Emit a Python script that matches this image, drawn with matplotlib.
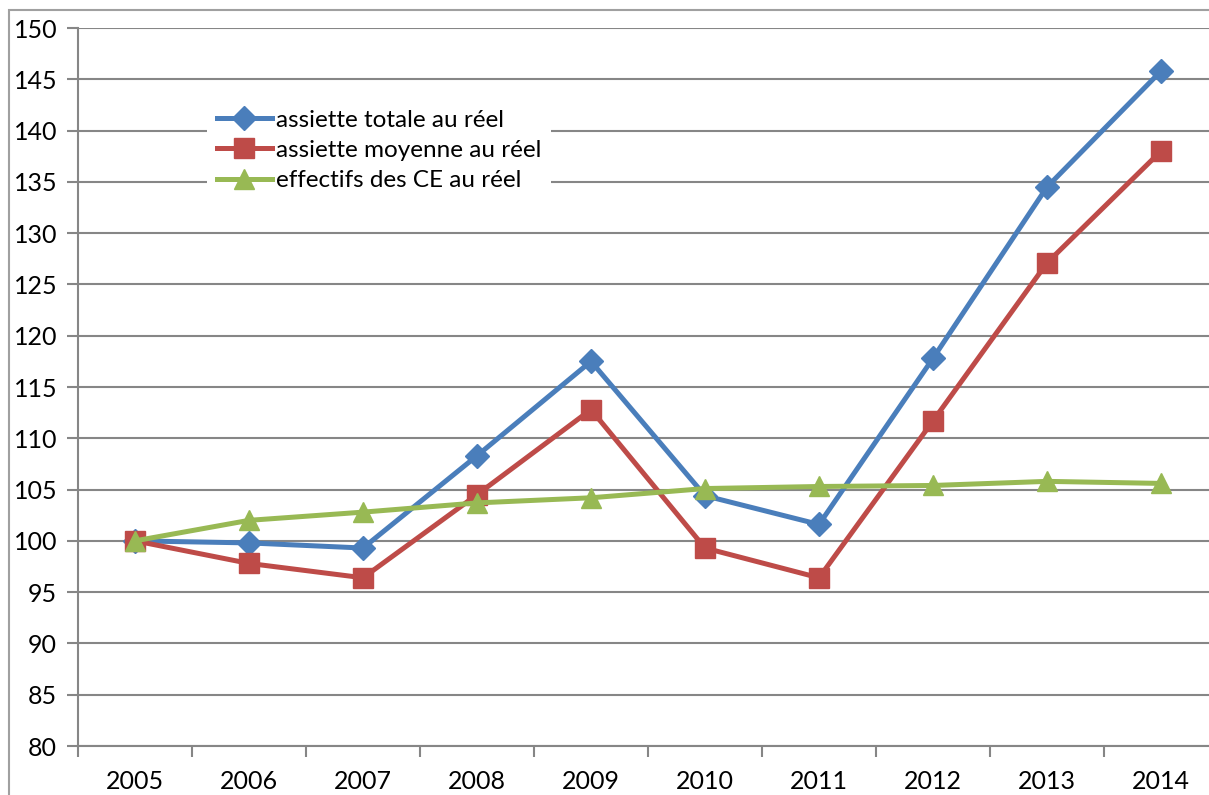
import matplotlib.pyplot as plt
from matplotlib.patches import Rectangle

years = ['2005', '2006', '2007', '2008', '2009', '2010', '2011', '2012', '2013', '2014']
assiette_totale = [100, 99.8, 99.3, 108.3, 117.5, 104.4, 101.6, 117.8, 134.5, 145.8]
assiette_moyenne = [100, 97.8, 96.4, 104.5, 112.8, 99.3, 96.4, 111.7, 127.1, 138.0]
effectifs_ce = [100, 102.0, 102.8, 103.7, 104.2, 105.1, 105.3, 105.4, 105.8, 105.6]
labels = ['assiette totale au réel', 'assiette moyenne au réel', 'effectifs des CE au réel']

plt.rcParams['font.family'] = ['Lato', 'DejaVu Sans']
grey = '#868686'

fig = plt.figure(figsize=(12.09, 7.95), dpi=100)
# outer chart frame (cut off on the right and bottom)
fig.patches.append(Rectangle((9 / 1209, -0.1), 1.2, 1 - 10 / 795 + 0.1,
                             transform=fig.transFigure, fill=False,
                             edgecolor='#a0a0a0', linewidth=1.5))

ax = fig.add_axes([78 / 1209, 1 - 746 / 795, 1140 / 1209, (746 - 28) / 795])
x = list(range(len(years)))

ax.plot(x, assiette_totale, color='#4a7ebb', linewidth=3.6, marker='D', markersize=12,
        label=labels[0], zorder=3)
ax.plot(x, assiette_moyenne, color='#be4b48', linewidth=3.6, marker='s', markersize=14,
        label=labels[1], zorder=3)
ax.plot(x, effectifs_ce, color='#98b954', linewidth=3.6, marker='^', markersize=14,
        label=labels[2], zorder=3)

ax.set_xlim(-0.5, len(years) - 0.5)
ax.set_ylim(80, 150)
ax.set_yticks(range(80, 151, 5))
ax.set_xticks(x)
ax.set_xticklabels(years)
ax.set_xticks([i - 0.5 for i in range(len(years) + 1)], minor=True)
ax.tick_params(axis='x', which='major', length=0, pad=17, labelsize=18)
ax.tick_params(axis='x', which='minor', length=8, width=1.5, color=grey, direction='out')
ax.tick_params(axis='y', length=8, width=1.5, color=grey, labelsize=18, pad=7)

ax.grid(axis='y', color=grey, linewidth=1.5)
ax.set_axisbelow(True)
for s in ['top', 'right']:
    ax.spines[s].set_visible(False)
for s in ['left', 'bottom']:
    ax.spines[s].set_color(grey)
    ax.spines[s].set_linewidth(1.5)

leg = ax.legend(loc='upper left', bbox_to_anchor=(0.113, 0.9), frameon=True,
                fontsize=17.5, handlelength=2.3, handletextpad=0.15,
                labelspacing=0.38, borderpad=0.4, borderaxespad=0)
leg.get_frame().set_edgecolor('none')
leg.get_frame().set_facecolor('white')
leg.get_frame().set_alpha(1)

fig.savefig('out.png', dpi=100)
